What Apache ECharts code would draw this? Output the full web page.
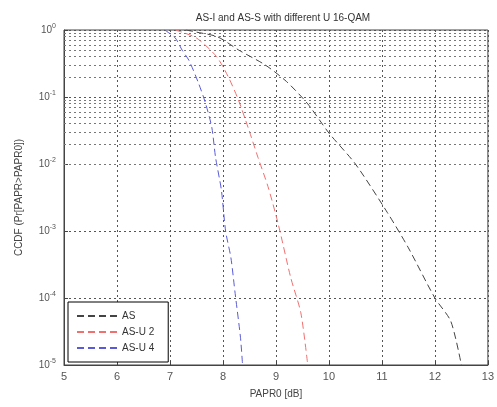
<!DOCTYPE html>
<html>
<head>
<meta charset="utf-8">
<script src="https://cdn.jsdelivr.net/npm/echarts@6/dist/echarts.min.js"></script>
<style>
  html, body { margin: 0; padding: 0; background: #fff; }
  #chart { width: 497px; height: 407px; }
</style>
</head>
<body>
<div id="chart"></div>
<script>
// AS
var asX = [7.3, 7.5, 7.9, 8.3, 8.8, 9.2, 9.6, 10.0, 10.5, 11.1, 11.5, 12.0, 12.3, 12.5];
var asP = [1, 0.93, 0.79, 0.5, 0.3, 0.17, 0.079, 0.029, 0.01, 0.0019, 0.00056, 0.0001, 0.000045, 0.00001];
// AS-U 2
var u2X = [7.1, 7.5, 7.88, 8.1, 8.29, 8.48, 8.66, 8.85, 9.04, 9.28, 9.47, 9.6];
var u2P = [1, 0.76, 0.4, 0.2, 0.091, 0.034, 0.0126, 0.0046, 0.0013, 0.0002, 0.00006, 0.00001];
// AS-U 4
var u4X = [6.9, 7.1, 7.23, 7.36, 7.54, 7.67, 7.79, 7.86, 7.97, 8.05, 8.15, 8.23, 8.33, 8.37];
var u4P = [1, 0.76, 0.5, 0.35, 0.16, 0.081, 0.035, 0.0126, 0.0041, 0.001, 0.0004, 0.000117, 0.000026, 0.00001];

var seriesNames = ['AS', 'AS-U 2', 'AS-U 4'];

function pairs(xs, ys) {
  return xs.map(function (x, i) { return [x, ys[i]]; });
}

// minor log grid lines 2..9 x 10^k
var minorLines = [];
for (var k = -5; k < 0; k++) {
  for (var m = 2; m <= 9; m++) {
    minorLines.push({ yAxis: m * Math.pow(10, k) });
  }
}

var chart = echarts.init(document.getElementById('chart'));
var font = 'Liberation Sans, Arial, sans-serif';

function curve(name, data, color) {
  return {
    name: name,
    type: 'line',
    symbol: 'none',
    smooth: 0.25,
    data: data,
    lineStyle: { type: [7, 4], width: 1, color: color },
    itemStyle: { color: color },
    z: 5
  };
}

chart.setOption({
  animation: false,
  textStyle: { fontFamily: font },
  title: {
    text: 'AS-I and AS-S with different U 16-QAM',
    left: 278,
    textAlign: 'center',
    top: 8,
    textStyle: { fontSize: 10, fontWeight: 'normal', color: '#333', fontFamily: font }
  },
  legend: {
    orient: 'vertical',
    left: 68,
    top: 302,
    itemWidth: 40,
    itemHeight: 10,
    itemGap: 6,
    padding: [9, 14, 9, 8],
    borderColor: '#000',
    borderWidth: 1,
    backgroundColor: '#fff',
    itemStyle: { opacity: 0 },
    textStyle: { fontSize: 10, color: '#333' },
    data: seriesNames
  },
  grid: {
    left: 64,
    right: 5,
    top: 30,
    bottom: 42,
    show: true,
    borderColor: '#444',
    borderWidth: 1
  },
  xAxis: {
    type: 'value',
    min: 5,
    max: 13,
    interval: 1,
    name: 'PAPR0 [dB]',
    nameLocation: 'middle',
    nameGap: 24,
    nameTextStyle: { fontSize: 10, color: '#444' },
    axisLine: { lineStyle: { color: '#444' } },
    axisTick: { inside: true, length: 4, lineStyle: { color: '#444' } },
    axisLabel: { fontSize: 11, color: '#555', margin: 6 },
    splitLine: { lineStyle: { type: [2, 3], color: '#555', width: 1 } }
  },
  yAxis: {
    type: 'log',
    logBase: 10,
    min: 0.00001,
    max: 1,
    name: 'CCDF (Pr[PAPR>PAPR0])',
    nameLocation: 'middle',
    nameGap: 40,
    nameTextStyle: { fontSize: 10, color: '#444' },
    axisLine: { lineStyle: { color: '#444' } },
    axisTick: { inside: true, length: 4, lineStyle: { color: '#444' } },
    axisLabel: {
      color: '#555',
      margin: 8,
      formatter: function (v) {
        return '{b|10}{s|' + Math.round(Math.log10(v)) + '}';
      },
      rich: {
        b: { fontSize: 10, color: '#555' },
        s: { fontSize: 7, color: '#555', verticalAlign: 'top', padding: [0, 0, 8, 0] }
      }
    },
    splitLine: { lineStyle: { type: [2, 3], color: '#555', width: 1 } }
  },
  series: [
    curve(seriesNames[0], pairs(asX, asP), '#444'),
    curve(seriesNames[1], pairs(u2X, u2P), '#f07070'),
    curve(seriesNames[2], pairs(u4X, u4P), '#5a5ad8'),
    {
      type: 'line',
      data: [],
      silent: true,
      markLine: {
        silent: true,
        symbol: 'none',
        label: { show: false },
        lineStyle: { type: [2, 3], color: '#777', width: 1 },
        data: minorLines
      }
    }
  ]
});
</script>
</body>
</html>
